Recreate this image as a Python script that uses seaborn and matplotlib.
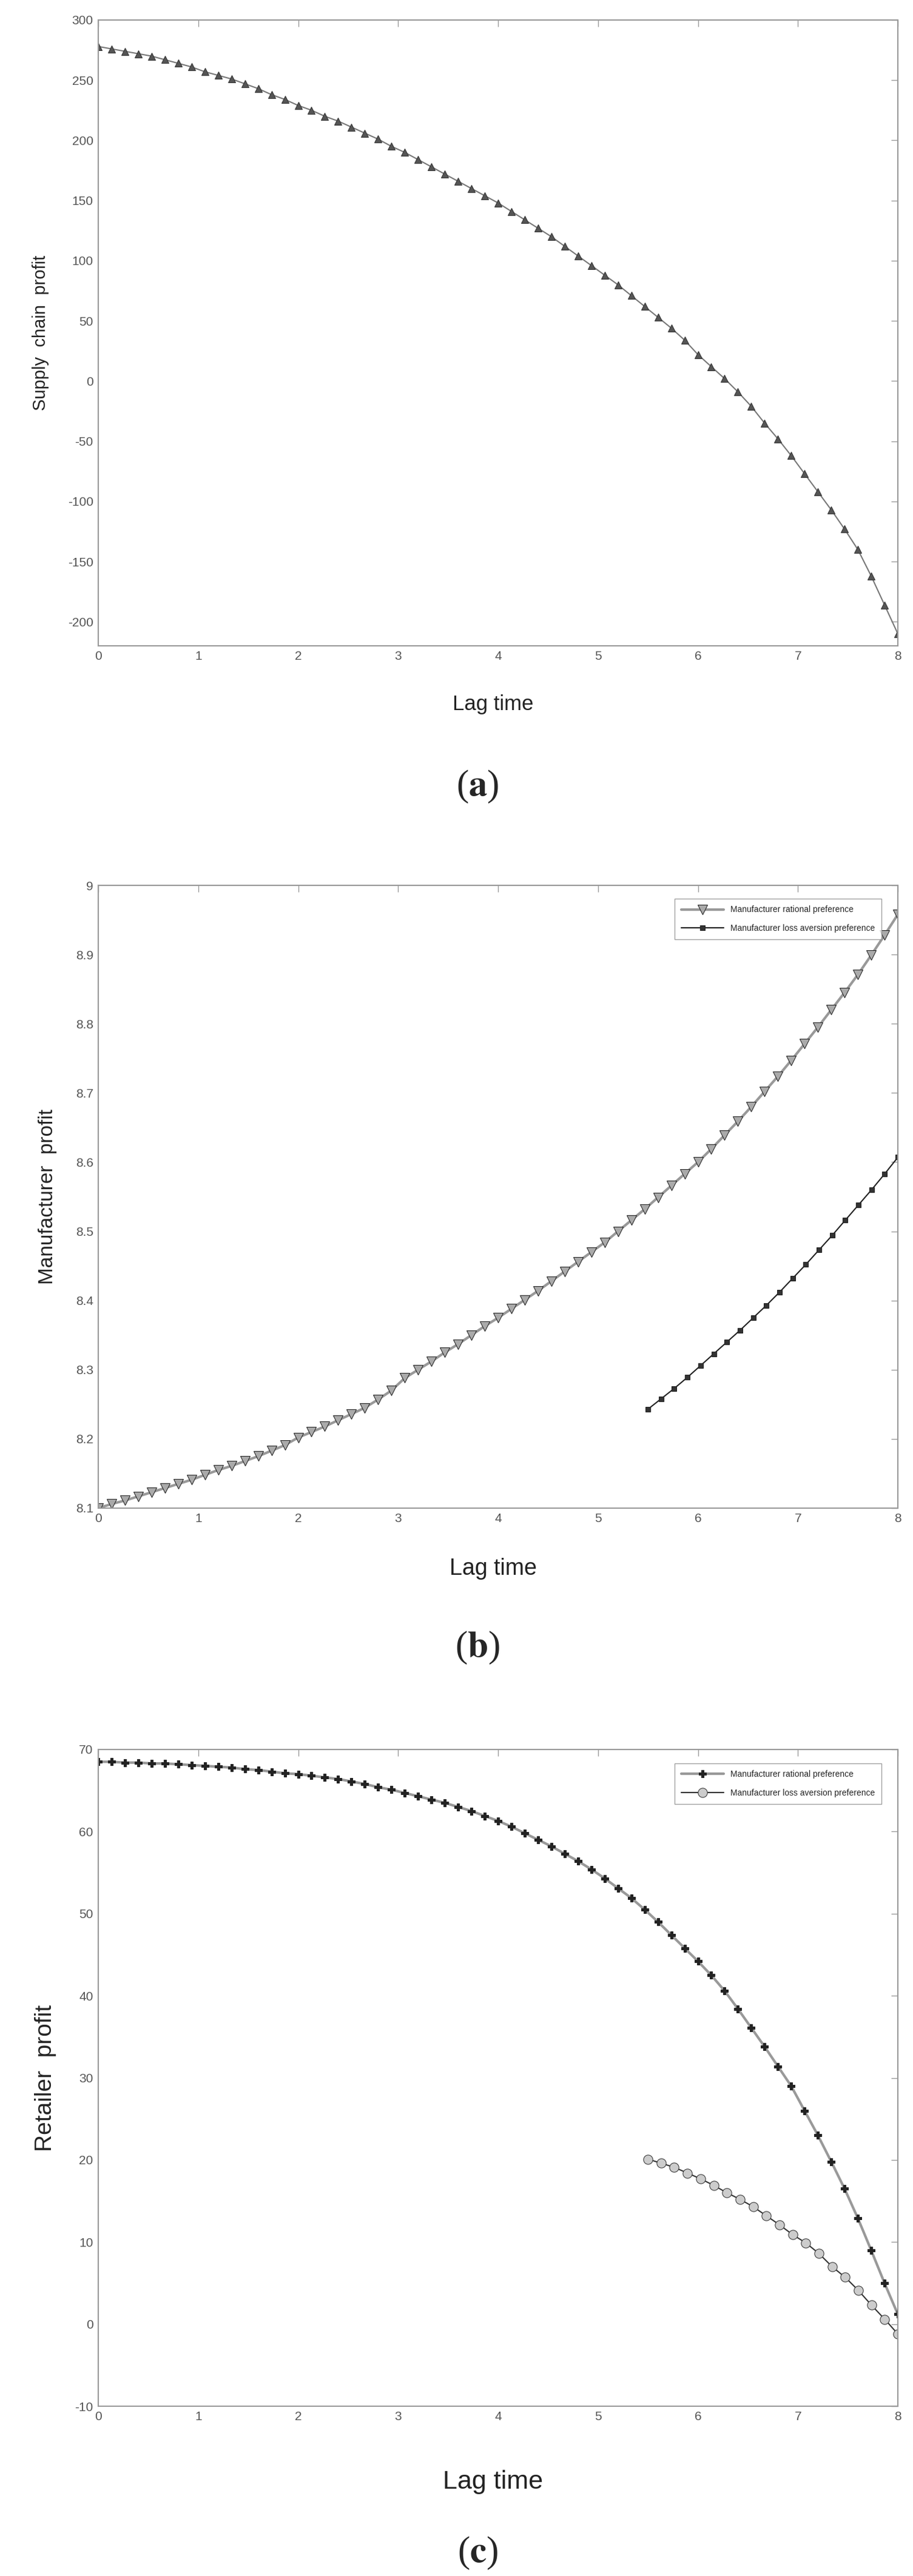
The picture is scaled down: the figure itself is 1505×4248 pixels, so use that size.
import numpy as np
import pandas as pd
import seaborn as sns
import matplotlib.pyplot as plt

# lag time grid (markers every 8/60)
lag = np.linspace(0, 8, 61)
lag_late = np.linspace(5.5, 8, 20)

supply_chain = [278, 276, 274, 272, 270, 267, 264, 261, 257, 254, 251, 247, 243, 238, 234,
                229, 225, 220, 216, 211, 206, 201, 195, 190, 184, 178, 172, 166, 160, 154,
                148, 141, 134, 127, 120, 112, 104, 96, 88, 80, 71, 62, 53, 44, 34,
                22, 12, 2, -9, -21, -35, -48, -62, -77, -92, -107, -123, -140, -162, -186, -210]

manu_rational = [8.100, 8.106, 8.111, 8.117, 8.123, 8.129, 8.135, 8.141, 8.148, 8.155, 8.161,
                 8.168, 8.175, 8.183, 8.191, 8.202, 8.210, 8.218, 8.227, 8.236, 8.245, 8.257,
                 8.270, 8.288, 8.300, 8.312, 8.325, 8.337, 8.350, 8.363, 8.375, 8.388, 8.401,
                 8.414, 8.428, 8.442, 8.456, 8.470, 8.484, 8.500, 8.516, 8.532, 8.549, 8.566,
                 8.583, 8.600, 8.619, 8.639, 8.659, 8.680, 8.702, 8.724, 8.747, 8.771, 8.795,
                 8.820, 8.845, 8.871, 8.899, 8.928, 8.958]
manu_loss = [8.243, 8.258, 8.273, 8.289, 8.306, 8.323, 8.340, 8.357, 8.375, 8.393,
             8.412, 8.432, 8.452, 8.473, 8.494, 8.516, 8.538, 8.560, 8.583, 8.607]

retail_rational = [68.5, 68.5, 68.4, 68.4, 68.3, 68.3, 68.2, 68.1, 68.0, 67.9, 67.8, 67.6, 67.5,
                   67.3, 67.1, 67.0, 66.8, 66.6, 66.4, 66.1, 65.8, 65.4, 65.1, 64.7, 64.3, 63.9,
                   63.5, 63.0, 62.5, 61.9, 61.3, 60.6, 59.8, 59.0, 58.2, 57.3, 56.4, 55.4, 54.3,
                   53.1, 51.9, 50.5, 49.0, 47.4, 45.8, 44.2, 42.5, 40.6, 38.4, 36.1, 33.8, 31.4,
                   29.0, 26.0, 23.0, 19.8, 16.5, 12.9, 9.0, 5.0, 1.2]
retail_loss = [20.1, 19.6, 19.1, 18.4, 17.7, 16.9, 16.0, 15.2, 14.3, 13.2,
               12.1, 10.9, 9.9, 8.6, 7.0, 5.7, 4.1, 2.3, 0.6, -1.2]

labels = ['Manufacturer rational preference', 'Manufacturer loss aversion preference']

sns.set_style('white')
plt.rcParams['font.family'] = ['Liberation Sans', 'DejaVu Sans']
plt.rcParams['mathtext.fontset'] = 'stix'
plt.rcParams['axes.unicode_minus'] = False

W, H = 1505, 4248
fig = plt.figure(figsize=(W / 100, H / 100), dpi=100)
L, R = 162, 1480


def make_ax(top, bottom):
    return fig.add_axes([L / W, 1 - bottom / H, (R - L) / W, (bottom - top) / H])


def style(ax, ylim, yticks, ylabel, ysize, lag_y, lag_size, letter, letter_y):
    ax.set_xlim(0, 8)
    ax.set_ylim(*ylim)
    ax.set_xticks(range(9))
    ax.set_yticks(yticks)
    ax.tick_params(direction='in', top=True, right=True, length=8, width=1,
                   color='#999999', labelcolor='#555555', labelsize=15, pad=6)
    for s in ax.spines.values():
        s.set_color('#999999')
        s.set_linewidth(1.5)
    ax.set_xlabel('')
    ax.set_ylabel(ylabel, fontsize=ysize, color='#222222', labelpad=22)
    fig.text(0.54, 1 - lag_y / H, 'Lag time', ha='center', va='center',
             fontsize=lag_size, color='#222222')
    fig.text(0.523, 1 - letter_y / H, r'($\mathbf{' + letter + '}$)', ha='center',
             va='center', fontsize=44, family='Liberation Serif')


# (a)
ax = make_ax(33, 1065)
sns.lineplot(x=lag, y=supply_chain, ax=ax, color='#777777', lw=1.5, marker='^',
             markersize=8, markerfacecolor='#555555', markeredgecolor='#333333')
style(ax, (-220, 300), range(-200, 301, 50), 'Supply  chain  profit', 21,
      1162, 25, 'a', 1297)

# (b)
ax = make_ax(1460, 2487)
df_b = pd.concat([pd.DataFrame({'lag': lag, 'profit': manu_rational, 'series': labels[0]}),
                  pd.DataFrame({'lag': lag_late, 'profit': manu_loss, 'series': labels[1]})])
sns.lineplot(data=df_b[df_b.series == labels[0]], x='lag', y='profit', ax=ax,
             color='#999999', lw=3, marker='v', markersize=11, markerfacecolor='#aaaaaa',
             markeredgecolor='#222222', label=labels[0])
sns.lineplot(data=df_b[df_b.series == labels[1]], x='lag', y='profit', ax=ax,
             color='#222222', lw=1.5, marker='s', markersize=6, markerfacecolor='#333333',
             markeredgecolor='#222222', label=labels[1])
ax.legend(loc='upper right', bbox_to_anchor=(0.985, 0.985), fontsize=10, frameon=True,
          fancybox=False, edgecolor='#888888', handlelength=5, borderpad=0.8,
          labelspacing=1.2)
style(ax, (8.1, 9.0), np.arange(8.1, 9.01, 0.1), 'Manufacturer  profit', 24,
      2587, 27, 'b', 2717)
ax.set_yticklabels(['8.1', '8.2', '8.3', '8.4', '8.5', '8.6', '8.7', '8.8', '8.9', '9'])

# (c)
ax = make_ax(2885, 3968)
sns.lineplot(x=lag, y=retail_rational, ax=ax, color='#999999', lw=3, marker='P',
             markersize=9, markerfacecolor='#222222', markeredgecolor='#222222',
             label=labels[0])
sns.lineplot(x=lag_late, y=retail_loss, ax=ax, color='#333333', lw=1.5, marker='o',
             markersize=11, markerfacecolor='#cccccc', markeredgecolor='#333333',
             label=labels[1])
ax.legend(loc='upper right', bbox_to_anchor=(0.985, 0.985), fontsize=10, frameon=True,
          fancybox=False, edgecolor='#888888', handlelength=5, borderpad=0.8,
          labelspacing=1.2)
style(ax, (-10, 70), range(-10, 71, 10), 'Retailer  profit', 28,
      4093, 31, 'c', 4210)

fig.savefig('out.png', dpi=100)
